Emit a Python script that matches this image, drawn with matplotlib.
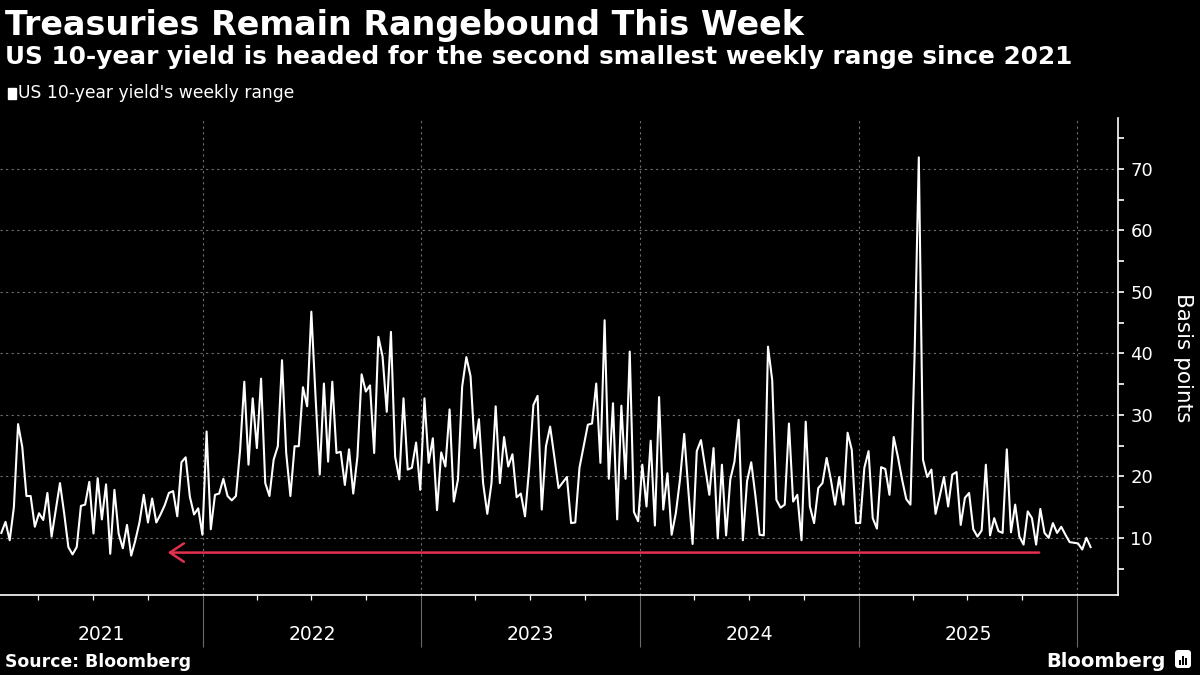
import matplotlib
matplotlib.use("Agg")
import matplotlib.pyplot as plt
import matplotlib.dates as mdates
import matplotlib.transforms as mtransforms
from matplotlib.patches import FancyArrowPatch, FancyBboxPatch, Rectangle
import pandas as pd

# ---------------- text ----------------
title = "Treasuries Remain Rangebound This Week"
subtitle = "US 10-year yield is headed for the second smallest weekly range since 2021"
series_name = "US 10-year yield's weekly range"
y_label = "Basis points"
source = "Source: Bloomberg"
brand = "Bloomberg"

# ---------------- data (basis points, weekly) ----------------
start_date = "2021-01-29"
range_part1 = [10.8, 12.6, 9.6, 15.0, 28.5, 24.8, 16.8, 16.8, 11.8, 14.0,
               12.9, 17.3, 10.2, 14.5, 18.9, 14.0, 8.5, 7.3, 8.5, 15.2,
               15.4, 19.1, 10.7, 19.7, 13.0, 18.7, 7.4, 17.8, 10.7, 8.3,
               12.1, 7.1, 9.6, 12.6, 17.0, 12.5, 16.4, 12.5, 13.8, 15.3,
               17.3, 17.6, 13.5, 22.3, 23.1, 16.7, 13.8, 14.8, 10.5, 27.3]
range_part2 = [11.4, 17.0, 17.2, 19.6, 16.8, 16.1, 16.8, 24.3, 35.4, 21.9,
               32.7, 24.6, 35.9, 18.9, 16.8, 22.7, 24.9, 38.9, 23.8, 16.8,
               24.9, 24.9, 34.5, 31.4, 46.8, 33.0, 20.3, 35.1, 22.4, 35.4,
               23.8, 24.0, 18.6, 24.4, 17.2, 23.2, 36.6, 33.8, 34.8, 23.8,
               42.7, 39.5, 30.5, 43.5, 23.2, 19.5, 32.7, 21.1]
range_part3 = [21.4, 25.5, 17.8, 32.7, 22.2, 26.2, 14.5, 23.9, 21.6, 30.9,
               15.9, 19.5, 34.6, 39.4, 36.3, 24.6, 29.3, 18.9, 13.9, 18.9,
               31.4, 18.9, 26.4, 21.6, 23.6, 16.6, 17.2, 13.5, 21.4, 31.6,
               33.1, 14.6, 24.9, 28.1, 23.2, 18.1, 19.0, 19.9, 12.4, 12.5,
               21.4, 24.9, 28.4, 28.6, 35.1, 22.2, 45.4, 19.6, 31.9, 13.0,
               31.5, 19.6, 40.3]
range_part4 = [14.2, 12.7, 21.9, 15.1, 25.8, 12.0, 32.9, 14.6, 20.5, 10.5,
               14.0, 19.5, 26.9, 17.6, 9.0, 24.1, 25.9, 21.4, 17.0, 24.6,
               9.9, 21.9, 10.4, 19.5, 22.4, 29.2, 9.6, 19.2, 22.3, 16.8,
               10.5, 10.4, 41.1, 35.7, 16.2, 14.9, 15.4, 28.6, 15.9, 17.0,
               9.6, 28.9, 15.1, 12.4, 18.1, 18.9, 23.0, 19.5, 15.4, 19.9,
               15.4, 27.1, 24.3, 12.4]
range_part5 = [12.4, 21.4, 24.1, 13.2, 11.5, 21.5, 21.2, 17.0, 26.4, 23.2,
               19.5, 16.3, 15.4, 40.0, 71.9, 22.7, 19.9, 21.1, 13.9, 16.8,
               19.9, 15.1, 20.3, 20.7, 12.1, 16.5, 17.3, 11.4, 10.2, 11.2,
               21.9, 10.4, 13.2, 11.1, 10.8, 24.4, 10.9, 15.4, 10.2, 8.9,
               14.3, 13.2, 8.9, 14.7, 10.8, 10.0, 12.4, 10.8, 11.8, 10.5,
               9.3, 9.2, 9.1, 8.1, 10.0, 8.5]

weekly_range = range_part1 + range_part2 + range_part3 + range_part4 + range_part5
dates = pd.date_range(start_date, periods=len(weekly_range), freq="7D")

year_labels = ["2021", "2022", "2023", "2024", "2025"]
year_bounds = ["2022-01-01", "2023-01-01", "2024-01-01", "2025-01-01", "2026-01-01"]
y_ticks = [10, 20, 30, 40, 50, 60, 70]
y_minor = [5, 15, 25, 35, 45, 55, 65, 75]

ref_level = 7.6
arrow_from = "2025-10-29"
arrow_to = "2021-11-03"

# ---------------- figure ----------------
W, H = 1200, 675
fig = plt.figure(figsize=(12, 6.75), dpi=100, facecolor="black")
ax = fig.add_axes([0, 1 - 595 / H, 1118 / W, (595 - 118) / H])
ax.set_facecolor("black")

ref = mdates.date2num(pd.Timestamp("2022-01-01"))
x0 = ref - 339.2
x1 = ref + 1528.8
ax.set_xlim(x0, x1)
ax.set_ylim(0.7, 78.3)

ax.plot(mdates.date2num(dates), weekly_range, color="white", lw=1.5, zorder=3)

# arrow
arr = FancyArrowPatch((mdates.date2num(pd.Timestamp(arrow_from)), ref_level),
                      (mdates.date2num(pd.Timestamp(arrow_to)), ref_level),
                      arrowstyle="->,head_length=0.5,head_width=0.33",
                      mutation_scale=20, color="#e4304f", lw=1.8,
                      shrinkA=0, shrinkB=0, zorder=4)
ax.add_patch(arr)

# spines
for s in ["left", "top"]:
    ax.spines[s].set_visible(False)
for s in ["right", "bottom"]:
    ax.spines[s].set_color("white")
    ax.spines[s].set_linewidth(1.2)

# y axis
ax.yaxis.tick_right()
ax.set_yticks(y_ticks)
ax.set_yticks(y_minor, minor=True)
ax.tick_params(axis="y", which="major", colors="white", length=4, width=1.2,
               labelsize=13, pad=5, direction="out")
ax.tick_params(axis="y", which="minor", colors="white", length=4, width=1.2,
               direction="out")

# x axis
bounds_num = [mdates.date2num(pd.Timestamp(d)) for d in year_bounds]
ax.set_xticks(bounds_num)
ax.set_xticklabels([""] * len(bounds_num))
ax.xaxis.set_minor_locator(mdates.MonthLocator(bymonth=[4, 7, 10]))
ax.tick_params(axis="x", which="major", color="#6a6a6a", length=37.5, width=0.8)
ax.tick_params(axis="x", which="minor", color="white", length=3.6, width=0.9)

# grid
grid_kw = dict(color="#6e6e6e", linestyle=(0, (2, 3)), linewidth=0.8)
ax.grid(axis="y", which="major", **grid_kw)
ax.grid(axis="x", which="major", **grid_kw)
ax.set_axisbelow(True)

# year labels centred in visible portion of each year
trans = mtransforms.blended_transform_factory(ax.transData, ax.transAxes)
lefts = [x0] + bounds_num[:-1]
rights = bounds_num
for lab, l, r in zip(year_labels, lefts, rights):
    ax.text((l + r) / 2, -40 / 477, lab, transform=trans, ha="center",
            va="center", color="white", fontsize=13.5)

# texts
fig.text(5 / W, 1 - 35 / H, title, color="white", fontsize=24,
         fontweight="bold", va="baseline", ha="left")
fig.text(5 / W, 1 - 64 / H, subtitle, color="white", fontsize=17.8,
         fontweight="bold", va="baseline", ha="left")
fig.patches.append(Rectangle((8 / W, 1 - 99 / H), 8 / W, 11 / H,
                             transform=fig.transFigure, color="white"))
fig.text(18 / W, 1 - 98 / H, series_name, color="white", fontsize=12.3,
         va="baseline", ha="left")
fig.text(1183 / W, 1 - 358 / H, y_label, color="white", fontsize=15.5,
         rotation=270, ha="center", va="center")
fig.text(5 / W, 1 - 667 / H, source, color="white", fontsize=12.4,
         fontweight="bold", va="baseline", ha="left")
fig.text(1166 / W, 1 - 667 / H, brand, color="white", fontsize=14,
         fontweight="bold", va="baseline", ha="right")

# small logo icon
iax = fig.add_axes([1174 / W, 1 - 670 / H, 18 / W, 22 / H])
iax.set_xlim(0, 18)
iax.set_ylim(0, 22)
iax.axis("off")
iax.add_patch(FancyBboxPatch((1, 2), 16, 18, boxstyle="round,pad=0,rounding_size=3",
                             fc="white", ec="none"))
for bx, bh in [(5, 5), (8, 9), (11, 7)]:
    iax.add_patch(Rectangle((bx, 5), 2, bh, fc="black", ec="none"))

fig.savefig("out.png", dpi=100, facecolor="black")
